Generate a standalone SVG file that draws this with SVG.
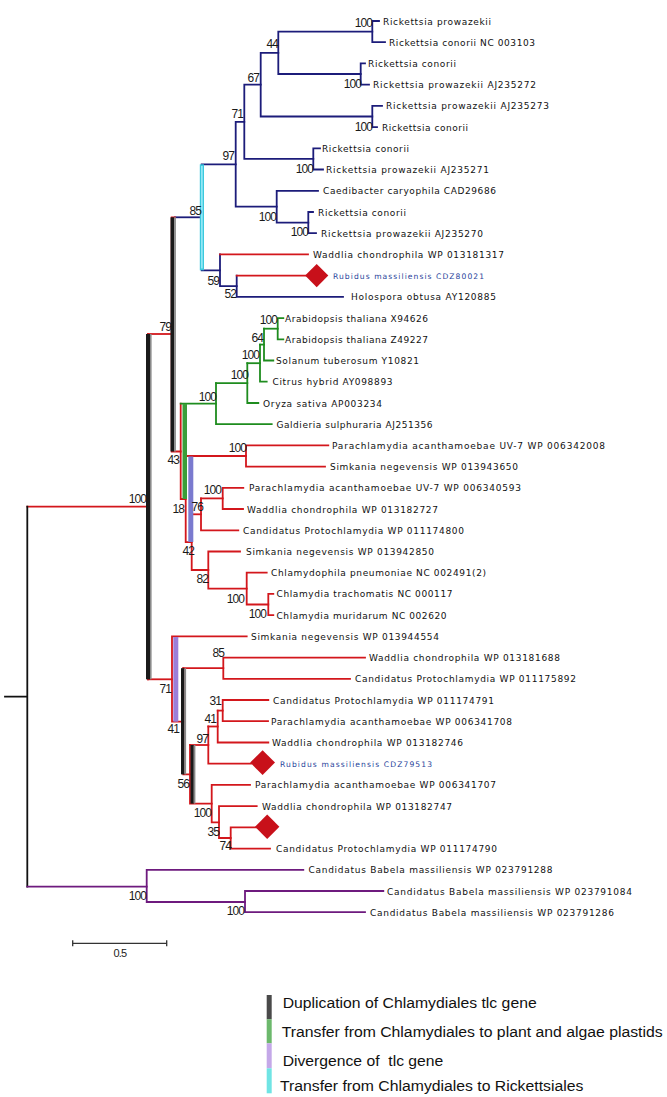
<svg xmlns="http://www.w3.org/2000/svg" width="667" height="1097" viewBox="0 0 667 1097">
<style>
.t{font-family:"DejaVu Sans","Liberation Sans",sans-serif;font-size:9px;fill:#111}
.rb{font-family:"DejaVu Sans","Liberation Sans",sans-serif;font-size:7.6px;fill:#1f3f9a}
.b{font-family:"Liberation Sans",Arial,sans-serif;font-size:12px;fill:#1a1a1a;text-anchor:end;letter-spacing:-0.9px}
.e{fill:none;stroke-width:1.8;stroke-linecap:square;stroke-linejoin:miter}
.nv{stroke:#1c1c7a}.rd{stroke:#d3171c}.gr{stroke:#1e8c1e}.pu{stroke:#6e1a7e}.bk{stroke:#111}
.lg{font-family:"Liberation Sans",Arial,sans-serif;font-size:14px;fill:#111}
.dia{fill:#c8101a}
</style>
<rect width="667" height="1097" fill="#fff"/>
<g id="connectors">
<path class="e nv" d="M379,21H372.3V42.2H385"/>
<path class="e nv" d="M365,63.4H360.7V84.7H369"/>
<path class="e nv" d="M372.3,31.6H278.3V74H360.7"/>
<path class="e nv" d="M382,105.9H372.3V127.1H377"/>
<path class="e nv" d="M278.3,52.8H260.7V116.5H372.3"/>
<path class="e nv" d="M320,148.3H313.3V169.5H323"/>
<path class="e nv" d="M260.7,84.7H244.3V158.9H313.3"/>
<path class="e nv" d="M313,212H308.3V233.2H316"/>
<path class="e nv" d="M318,190.8H276.7V222.6H308.3"/>
<path class="e nv" d="M244.3,121.8H235.7V206.7H276.7"/>
<path class="e nv" d="M235.7,164.3H201.7V270.3H220"/>
<path class="e nv" d="M220,254.4V286.2H236.7"/>
<path class="e rd" d="M220,254.4H308"/>
<path class="e nv" d="M236.7,275.6V296.9H343"/>
<path class="e rd" d="M236.7,275.6H306"/>
<path class="e nv" d="M175,217.3H201.7"/>
<path class="e rd" d="M27.3,506.7H148"/>
<path class="e rd" d="M148,334V679.3"/>
<path class="e rd" d="M148,334H171.7"/>
<path class="e rd" d="M171.7,217.3H175M171.7,217.3V451.5H180.7"/>
<path class="e rd" d="M180.7,403.7V499H185.7"/>
<path class="e gr" d="M180.7,403.7H216"/>
<path class="e rd" d="M185.7,456V542.2H191.7"/>
<path class="e rd" d="M185.7,456H246"/>
<path class="e rd" d="M328.3,445.4H246V466.6H325"/>
<path class="e rd" d="M191.7,514.3V570H208.3"/>
<path class="e rd" d="M191.7,514.3H201"/>
<path class="e rd" d="M201,498.4V530.3H238.3"/>
<path class="e rd" d="M201,498.4H222.7"/>
<path class="e rd" d="M243.3,487.8H222.7V509H243"/>
<path class="e rd" d="M240,551.5H208.3V588.6H246.7"/>
<path class="e rd" d="M266.7,572.7H246.7V604.5H268.3"/>
<path class="e rd" d="M273.3,593.9H268.3V615.2H273.3"/>
<path class="e gr" d="M216,383.1V424.2H271.7"/>
<path class="e gr" d="M216,383.1H247.3"/>
<path class="e gr" d="M247.3,363.2V403H258.3"/>
<path class="e gr" d="M247.3,363.2H260"/>
<path class="e gr" d="M260,344.6V381.7H266.7"/>
<path class="e gr" d="M260,344.6H264"/>
<path class="e gr" d="M264,328.7V360.5H273.3"/>
<path class="e gr" d="M264,328.7H277.7"/>
<path class="e gr" d="M283.3,318.1H277.7V339.3H283.3"/>
<path class="e rd" d="M148,679.3H172"/>
<path class="e rd" d="M246.7,636.4H172V721.7H183.3"/>
<path class="e rd" d="M183.3,668.2V774.4H190"/>
<path class="e rd" d="M183.3,668.2H223.3"/>
<path class="e rd" d="M365,657.6H223.3V678.8H350"/>
<path class="e rd" d="M190,745V803.6H211.7"/>
<path class="e rd" d="M190,745H208.3"/>
<path class="e rd" d="M208.3,726.5V763.7H251"/>
<path class="e rd" d="M208.3,726.5H217.7"/>
<path class="e rd" d="M217.7,710.6V742.5H268.3"/>
<path class="e rd" d="M217.7,710.6H222.7"/>
<path class="e rd" d="M268.3,700H222.7V721.2H268"/>
<path class="e rd" d="M250,784.9H211.7V822.3H219"/>
<path class="e rd" d="M256.7,806.1H219V838H230.7"/>
<path class="e rd" d="M256,827.3H230.7V848.6H270"/>
<path class="e bk" d="M27.3,506.7V886.7M5,696.7H27.3"/>
<path class="e pu" d="M27.3,886.7H146.7"/>
<path class="e pu" d="M303.3,869.8H146.7V902H245"/>
<path class="e pu" d="M383.3,891H245V912.2H365"/>
</g>
<g id="highlights">
<rect x="146" y="334" width="4" height="345.3" fill="#1a1a1a"/>
<rect x="150" y="334" width="1.6" height="345.3" fill="#8a8a8a"/>
<rect x="170.5" y="217.3" width="3.6" height="234.2" fill="#1a1a1a"/>
<rect x="174.1" y="217.3" width="1.8" height="234.2" fill="#8a8a8a"/>
<rect x="181" y="668.2" width="3.5" height="106.2" fill="#1a1a1a"/>
<rect x="184.5" y="668.2" width="1.6" height="106.2" fill="#8a8a8a"/>
<rect x="190.5" y="745" width="3.3" height="58.6" fill="#1a1a1a"/>
<rect x="193.8" y="745" width="1.6" height="58.6" fill="#8a8a8a"/>
<rect x="182.5" y="403.7" width="4.5" height="95.3" fill="#3a9e3a"/>
<rect x="188.3" y="456.5" width="5" height="85.5" fill="#7a7acf"/>
<rect x="173.3" y="637" width="5" height="84.7" fill="#9c7ed8"/>
<rect x="199.8" y="164.3" width="4.2" height="106" fill="#3cc8de"/>
<rect x="201.2" y="166" width="1.4" height="102.5" fill="#a8f0fa"/>
</g>
<g id="diamonds">
<polygon id="diamond-1" class="dia" points="316.7,264 328.3,275.6 316.7,287.2 305.1,275.6"/>
<polygon id="diamond-2" class="dia" points="262.6,750.2 275,762.6 262.6,775 250.2,762.6"/>
<polygon id="diamond-3" class="dia" points="267.2,814.6 279.4,826.8 267.2,839 255,826.8"/>
</g>
<g id="leaves">
<g id="leaf-1"><text class="t" x="383" y="24.5" textLength="108" lengthAdjust="spacing">Rickettsia prowazekii</text></g>
<g id="leaf-2"><text class="t" x="389" y="45.7" textLength="146" lengthAdjust="spacing">Rickettsia conorii NC 003103</text></g>
<g id="leaf-3"><text class="t" x="368" y="66.9" textLength="88" lengthAdjust="spacing">Rickettsia conorii</text></g>
<g id="leaf-4"><text class="t" x="373" y="88.2" textLength="163" lengthAdjust="spacing">Rickettsia prowazekii AJ235272</text></g>
<g id="leaf-5"><text class="t" x="386" y="109.4" textLength="163" lengthAdjust="spacing">Rickettsia prowazekii AJ235273</text></g>
<g id="leaf-6"><text class="t" x="382" y="130.6" textLength="86" lengthAdjust="spacing">Rickettsia conorii</text></g>
<g id="leaf-7"><text class="t" x="322" y="151.8" textLength="87" lengthAdjust="spacing">Rickettsia conorii</text></g>
<g id="leaf-8"><text class="t" x="326" y="173" textLength="163" lengthAdjust="spacing">Rickettsia prowazekii AJ235271</text></g>
<g id="leaf-9"><text class="t" x="323" y="194.3" textLength="173" lengthAdjust="spacing">Caedibacter caryophila CAD29686</text></g>
<g id="leaf-10"><text class="t" x="318" y="215.5" textLength="88" lengthAdjust="spacing">Rickettsia conorii</text></g>
<g id="leaf-11"><text class="t" x="321" y="236.7" textLength="162" lengthAdjust="spacing">Rickettsia prowazekii AJ235270</text></g>
<g id="leaf-12"><text class="t" x="313" y="257.9" textLength="191" lengthAdjust="spacing">Waddlia chondrophila WP 013181317</text></g>
<g id="leaf-13"><text class="rb" x="333" y="278.6" textLength="151" lengthAdjust="spacing">Rubidus massiliensis CDZ80021</text></g>
<g id="leaf-14"><text class="t" x="351" y="300.4" textLength="145" lengthAdjust="spacing">Holospora obtusa AY120885</text></g>
<g id="leaf-15"><text class="t" x="285" y="321.6" textLength="143" lengthAdjust="spacing">Arabidopsis thaliana X94626</text></g>
<g id="leaf-16"><text class="t" x="285" y="342.8" textLength="143" lengthAdjust="spacing">Arabidopsis thaliana Z49227</text></g>
<g id="leaf-17"><text class="t" x="276" y="364" textLength="143" lengthAdjust="spacing">Solanum tuberosum Y10821</text></g>
<g id="leaf-18"><text class="t" x="272.5" y="385.2" textLength="120" lengthAdjust="spacing">Citrus hybrid AY098893</text></g>
<g id="leaf-19"><text class="t" x="263" y="406.5" textLength="119" lengthAdjust="spacing">Oryza sativa AP003234</text></g>
<g id="leaf-20"><text class="t" x="276.5" y="427.7" textLength="156" lengthAdjust="spacing">Galdieria sulphuraria AJ251356</text></g>
<g id="leaf-21"><text class="t" x="332" y="448.9" textLength="273" lengthAdjust="spacing">Parachlamydia acanthamoebae UV-7 WP 006342008</text></g>
<g id="leaf-22"><text class="t" x="330" y="470.1" textLength="188" lengthAdjust="spacing">Simkania negevensis WP 013943650</text></g>
<g id="leaf-23"><text class="t" x="249" y="491.3" textLength="272" lengthAdjust="spacing">Parachlamydia acanthamoebae UV-7 WP 006340593</text></g>
<g id="leaf-24"><text class="t" x="247" y="512.5" textLength="191" lengthAdjust="spacing">Waddlia chondrophila WP 013182727</text></g>
<g id="leaf-25"><text class="t" x="243" y="533.8" textLength="221" lengthAdjust="spacing">Candidatus Protochlamydia WP 011174800</text></g>
<g id="leaf-26"><text class="t" x="246" y="555" textLength="188" lengthAdjust="spacing">Simkania negevensis WP 013942850</text></g>
<g id="leaf-27"><text class="t" x="271" y="576.2" textLength="215" lengthAdjust="spacing">Chlamydophila pneumoniae NC 002491(2)</text></g>
<g id="leaf-28"><text class="t" x="276.5" y="597.4" textLength="176" lengthAdjust="spacing">Chlamydia trachomatis NC 000117</text></g>
<g id="leaf-29"><text class="t" x="276.5" y="618.7" textLength="170" lengthAdjust="spacing">Chlamydia muridarum NC 002620</text></g>
<g id="leaf-30"><text class="t" x="251" y="639.9" textLength="188" lengthAdjust="spacing">Simkania negevensis WP 013944554</text></g>
<g id="leaf-31"><text class="t" x="369" y="661.1" textLength="191" lengthAdjust="spacing">Waddlia chondrophila WP 013181688</text></g>
<g id="leaf-32"><text class="t" x="355" y="682.3" textLength="221" lengthAdjust="spacing">Candidatus Protochlamydia WP 011175892</text></g>
<g id="leaf-33"><text class="t" x="273" y="703.5" textLength="221" lengthAdjust="spacing">Candidatus Protochlamydia WP 011174791</text></g>
<g id="leaf-34"><text class="t" x="271" y="724.7" textLength="241" lengthAdjust="spacing">Parachlamydia acanthamoebae WP 006341708</text></g>
<g id="leaf-35"><text class="t" x="272" y="746" textLength="191" lengthAdjust="spacing">Waddlia chondrophila WP 013182746</text></g>
<g id="leaf-36"><text class="rb" x="280" y="766.7" textLength="152" lengthAdjust="spacing">Rubidus massiliensis CDZ79513</text></g>
<g id="leaf-37"><text class="t" x="255" y="788.4" textLength="241" lengthAdjust="spacing">Parachlamydia acanthamoebae WP 006341707</text></g>
<g id="leaf-38"><text class="t" x="262" y="809.6" textLength="190" lengthAdjust="spacing">Waddlia chondrophila WP 013182747</text></g>
<g id="leaf-40"><text class="t" x="276" y="852.1" textLength="221" lengthAdjust="spacing">Candidatus Protochlamydia WP 011174790</text></g>
<g id="leaf-41"><text class="t" x="308.5" y="873.3" textLength="244" lengthAdjust="spacing">Candidatus Babela massiliensis WP 023791288</text></g>
<g id="leaf-42"><text class="t" x="387" y="894.5" textLength="245" lengthAdjust="spacing">Candidatus Babela massiliensis WP 023791084</text></g>
<g id="leaf-43"><text class="t" x="370" y="915.7" textLength="244" lengthAdjust="spacing">Candidatus Babela massiliensis WP 023791286</text></g>
</g>
<g id="bootstrap">
<g id="bs-1"><text class="b" x="372" y="26.5">100</text></g>
<g id="bs-2"><text class="b" x="278" y="47.5">44</text></g>
<g id="bs-3"><text class="b" x="361" y="87.5">100</text></g>
<g id="bs-4"><text class="b" x="259" y="81.5">67</text></g>
<g id="bs-5"><text class="b" x="372" y="130.5">100</text></g>
<g id="bs-6"><text class="b" x="243" y="117.5">71</text></g>
<g id="bs-7"><text class="b" x="234" y="159.5">97</text></g>
<g id="bs-8"><text class="b" x="313" y="172.5">100</text></g>
<g id="bs-9"><text class="b" x="276" y="220.5">100</text></g>
<g id="bs-10"><text class="b" x="308" y="235.5">100</text></g>
<g id="bs-11"><text class="b" x="201" y="214.5">85</text></g>
<g id="bs-12"><text class="b" x="219" y="284.5">59</text></g>
<g id="bs-13"><text class="b" x="236" y="297.5">52</text></g>
<g id="bs-14"><text class="b" x="171" y="330.5">79</text></g>
<g id="bs-15"><text class="b" x="277" y="323.5">100</text></g>
<g id="bs-16"><text class="b" x="263" y="341.5">64</text></g>
<g id="bs-17"><text class="b" x="259" y="358.5">100</text></g>
<g id="bs-18"><text class="b" x="248" y="378.5">100</text></g>
<g id="bs-19"><text class="b" x="216" y="400.5">100</text></g>
<g id="bs-20"><text class="b" x="246" y="451.5">100</text></g>
<g id="bs-21"><text class="b" x="179" y="463.5">43</text></g>
<g id="bs-22"><text class="b" x="221" y="493.5">100</text></g>
<g id="bs-23"><text class="b" x="184" y="512.5">18</text></g>
<g id="bs-24"><text class="b" x="203" y="510.5">76</text></g>
<g id="bs-25"><text class="b" x="194" y="554.5">42</text></g>
<g id="bs-26"><text class="b" x="208" y="582.5">82</text></g>
<g id="bs-27"><text class="b" x="244" y="602.5">100</text></g>
<g id="bs-28"><text class="b" x="266" y="617.5">100</text></g>
<g id="bs-29"><text class="b" x="146" y="502.5">100</text></g>
<g id="bs-30"><text class="b" x="171" y="692.5">71</text></g>
<g id="bs-31"><text class="b" x="179" y="732.5">41</text></g>
<g id="bs-32"><text class="b" x="224" y="656.5">85</text></g>
<g id="bs-33"><text class="b" x="221" y="704.5">31</text></g>
<g id="bs-34"><text class="b" x="216" y="722.5">41</text></g>
<g id="bs-35"><text class="b" x="208" y="742.5">97</text></g>
<g id="bs-36"><text class="b" x="189" y="787.5">56</text></g>
<g id="bs-37"><text class="b" x="211" y="816.5">100</text></g>
<g id="bs-38"><text class="b" x="219" y="835.5">35</text></g>
<g id="bs-39"><text class="b" x="231" y="849.5">74</text></g>
<g id="bs-40"><text class="b" x="146" y="899.5">100</text></g>
<g id="bs-41"><text class="b" x="244" y="914.5">100</text></g>
</g>
<g id="scale-bar">
<path d="M72.7,943.3H166.7M72.7,940.3V946.3M166.7,940.3V946.3" fill="none" stroke="#333" stroke-width="1.3"/>
<text x="120" y="957" text-anchor="middle" font-family="Liberation Sans, Arial, sans-serif" font-size="11" letter-spacing="-0.8" fill="#222">0.5</text>
</g>
<g id="legend">
<g id="legend-duplication"><rect x="266.7" y="995" width="5" height="24.3" fill="#4a4a4a"/><text class="lg" x="282.7" y="1008.3" textLength="254" lengthAdjust="spacingAndGlyphs">Duplication of Chlamydiales tlc gene</text></g>
<g id="legend-plastid"><rect x="266.7" y="1019.3" width="5" height="24" fill="#6cb86c"/><text class="lg" x="281.7" y="1036.7" textLength="381" lengthAdjust="spacingAndGlyphs">Transfer from Chlamydiales to plant and algae plastids</text></g>
<g id="legend-divergence"><rect x="266.7" y="1043.3" width="5" height="25" fill="#c4a8e8"/><text class="lg" x="282.7" y="1065.7" textLength="160.6" lengthAdjust="spacingAndGlyphs" xml:space="preserve">Divergence of  tlc gene</text></g>
<g id="legend-rickettsiales"><rect x="266.7" y="1068.3" width="5" height="25" fill="#70e4e4"/><text class="lg" x="280" y="1090.7" textLength="303.3" lengthAdjust="spacingAndGlyphs">Transfer from Chlamydiales to Rickettsiales</text></g>
</g>
</svg>
